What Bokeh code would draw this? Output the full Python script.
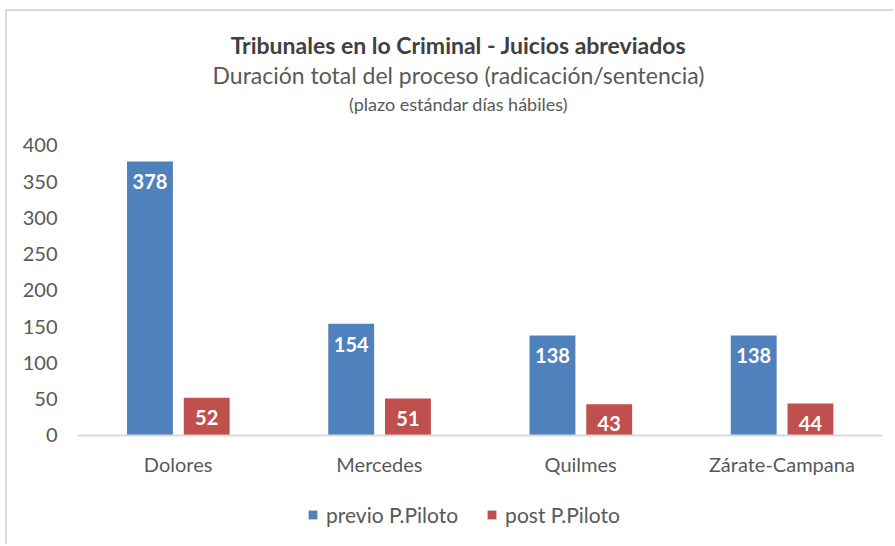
from bokeh.plotting import figure
from bokeh.models import ColumnDataSource, FactorRange, Range1d, Label, Legend, LegendItem
from bokeh.transform import dodge
from bokeh.core.properties import value
from bokeh.embed import file_html
from bokeh.resources import INLINE

categories = ["Dolores", "Mercedes", "Quilmes", "Zárate-Campana"]
previo = [378, 154, 138, 138]
post = [52, 51, 43, 44]
series_names = ["previo P.Piloto", "post P.Piloto"]
y_ticks = [0, 50, 100, 150, 200, 250, 300, 350, 400]

BLUE = "#4F81BD"
RED = "#C0504D"
FONT = "Lato"
GRAY_TXT = "#595959"

source = ColumnDataSource(dict(
    cat=categories,
    previo=previo,
    post=post,
    previo_txt=[str(v) for v in previo],
    post_txt=[str(v) for v in post],
))

# frame spans the full height so titles and legend are drawn inside it
p = figure(
    x_range=FactorRange(*categories, range_padding=0),
    y_range=Range1d(-153.1, 584.8),
    width=888, height=535,
    output_backend="svg", toolbar_location=None,
    min_border_left=70, min_border_right=13, min_border_top=0, min_border_bottom=0,
)
p.styles = {"margin-left": "5px", "margin-top": "9px",
            "border-left": "2px solid #D9D9D9", "border-top": "2px solid #D9D9D9"}
p.outline_line_color = None
p.xgrid.grid_line_color = None
p.ygrid.grid_line_color = None

b1 = p.vbar(x=dodge("cat", -0.14, range=p.x_range), top="previo", width=0.228,
            source=source, fill_color=BLUE, line_color=None)
b2 = p.vbar(x=dodge("cat", 0.142, range=p.x_range), top="post", width=0.228,
            source=source, fill_color=RED, line_color=None)

p.text(x=dodge("cat", -0.14, range=p.x_range), y="previo", text="previo_txt", source=source,
       text_color="white", text_font=value(FONT), text_font_style="bold", text_font_size="20px",
       text_align="center", text_baseline="top", y_offset=13)
p.text(x=dodge("cat", 0.142, range=p.x_range), y="post", text="post_txt", source=source,
       text_color="white", text_font=value(FONT), text_font_style="bold", text_font_size="20px",
       text_align="center", text_baseline="top", y_offset=12)

# axes
p.yaxis.ticker = y_ticks
p.yaxis.axis_line_color = None
p.yaxis.major_tick_line_color = None
p.yaxis.major_tick_out = 0
p.yaxis.major_tick_in = 0
p.yaxis.minor_tick_line_color = None
p.yaxis.major_label_standoff = 20
p.yaxis.major_label_text_font = FONT
p.yaxis.major_label_text_font_size = "20px"
p.yaxis.major_label_text_color = GRAY_TXT

p.xaxis.fixed_location = 0
p.xaxis.axis_line_color = "#D9D9D9"
p.xaxis.axis_line_width = 2
p.xaxis.major_tick_line_color = None
p.xaxis.major_tick_out = 0
p.xaxis.major_tick_in = 0
p.xaxis.minor_tick_line_color = None
p.xaxis.major_label_standoff = 17
p.xaxis.major_label_text_font = FONT
p.xaxis.major_label_text_font_size = "20px"
p.xaxis.major_label_text_color = GRAY_TXT

# titles
tx = 1.893
p.add_layout(Label(x=tx, y=538.5, text="Tribunales en lo Criminal - Juicios abreviados",
                   text_font=FONT, text_font_style="bold", text_font_size="23px",
                   text_color="#404040", text_align="center", text_baseline="middle"))
p.add_layout(Label(x=tx, y=496.6, text="Duración total del proceso (radicación/sentencia)",
                   text_font=FONT, text_font_size="23px",
                   text_color=GRAY_TXT, text_align="center", text_baseline="middle"))
p.add_layout(Label(x=tx, y=457.9, text="(plazo estándar días hábiles)",
                   text_font=FONT, text_font_size="18px",
                   text_color=GRAY_TXT, text_align="center", text_baseline="middle"))

legend = Legend(items=[LegendItem(label=series_names[0], renderers=[b1]),
                       LegendItem(label=series_names[1], renderers=[b2])],
                orientation="horizontal", location=(230, 19),
                glyph_width=11, glyph_height=11, label_standoff=8, spacing=28,
                padding=0, margin=0, border_line_color=None, background_fill_alpha=0,
                label_text_font=FONT, label_text_font_size="21px", label_text_color=GRAY_TXT)
p.add_layout(legend, "center")

open("out.html", "w").write(file_html(p, INLINE))
